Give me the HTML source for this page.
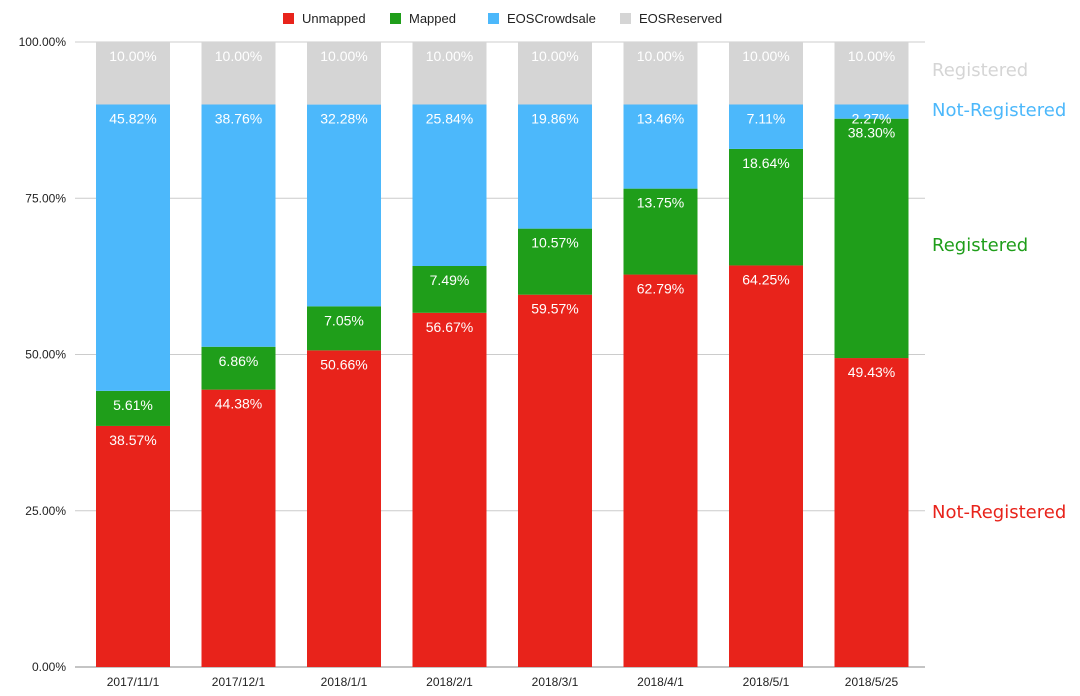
<!DOCTYPE html>
<html><head><meta charset="utf-8"><style>
body{margin:0;background:#fff;}
svg{display:block;font-family:"Liberation Sans",sans-serif;}
</style></head><body>
<svg id="chart" width="1080" height="696"></svg>
<script>
const categories=["2017/11/1","2017/12/1","2018/1/1","2018/2/1","2018/3/1","2018/4/1","2018/5/1","2018/5/25"];
const unmapped=[38.57,44.38,50.66,56.67,59.57,62.79,64.25,49.43];
const mapped=[5.61,6.86,7.05,7.49,10.57,13.75,18.64,38.30];
const crowdsale=[45.82,38.76,32.28,25.84,19.86,13.46,7.11,2.27];
const reserved=[10,10,10,10,10,10,10,10];
const yTicks=[0,25,50,75,100];
const seriesNames=["Unmapped","Mapped","EOSCrowdsale","EOSReserved"];
const colors=["#e8231b","#1f9e1a","#4cb8fb","#d5d5d5"];
const NS="http://www.w3.org/2000/svg";
const svg=document.getElementById('chart');
function el(t,a,p){const e=document.createElementNS(NS,t);for(const k in a)e.setAttribute(k,a[k]);(p||svg).appendChild(e);return e;}
const y0=667,y1=42,xL=75,xR=925;
const y=v=>y0-(v/100)*(y0-y1);
const step=105.5,bw=74;
const xc=i=>133+i*step;
yTicks.forEach(t=>{
  const g=el('line',{x1:xL,x2:xR,y1:y(t),y2:y(t),stroke:t===0?'#888':'#ccc','stroke-width':1});
  
  
  const tx=el('text',{x:66,y:y(t)+4,'text-anchor':'end','font-size':12,fill:'#222'});
  tx.textContent=t.toFixed(2)+'%';
  
  
});
const series=[unmapped,mapped,crowdsale,reserved];
categories.forEach((c,i)=>{
  let acc=0;
  series.forEach((s,k)=>{
    const v=s[i];const top=y(acc+v),bot=y(acc);
    const r=el('rect',{x:xc(i)-bw/2,y:top,width:bw,height:bot-top,fill:colors[k]});
    
    
    const t=el('text',{x:xc(i),y:top+19,'text-anchor':'middle','font-size':14,fill:'#fff'});
    t.textContent=v.toFixed(2)+'%';
    
    
    acc+=v;
  });
  const xl=el('text',{x:xc(i),y:686,'text-anchor':'middle','font-size':12,fill:'#222'});
  xl.textContent=c;
  
  
});
const legX=[283,390,488,620];
seriesNames.forEach((n,k)=>{
  const r=el('rect',{x:legX[k],y:13,width:11,height:11,fill:colors[k]});
  
  
  const t=el('text',{x:legX[k]+19,y:23,'font-size':13,fill:'#222'});
  t.textContent=n;
  
  
});
const notes=[["Registered",76,"#d5d5d5"],["Not-Registered",116,"#4cb8fb"],["Registered",251,"#1f9e1a"],["Not-Registered",518,"#e8231b"]];
notes.forEach(n=>{
  const t=el('text',{x:932,y:n[1],'font-size':18,fill:n[2],'font-family':'"DejaVu Sans",sans-serif'});
  t.textContent=n[0];
  
  
});
</script>
</body></html>
